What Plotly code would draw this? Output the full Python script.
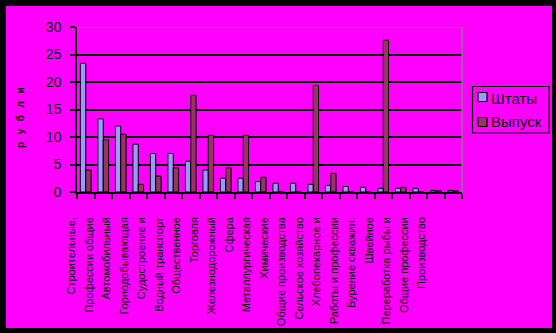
import plotly.graph_objects as go

categories = [
    "Строительные,", "Профессии общие", "Автомобильный", "Горнодобывающая",
    "Судостроение и", "Водный транспорт", "Общественное", "Торговля",
    "Железнодорожный", "Сфера", "Металлургическая", "Химические",
    "Общие производства", "Сельское хозяйство", "Хлебопекарное и",
    "Работы и профессии", "Бурение скважин.", "Швейное",
    "Переработка рыбы и", "Общие профессии", "Производство", "",
]
shtaty = [23.4, 13.3, 12.0, 8.7, 7.0, 7.0, 5.6, 4.0, 2.5, 2.5, 1.9, 1.6,
          1.6, 1.4, 1.2, 1.0, 0.85, 0.67, 0.67, 0.67, 0.3, 0.3]
vypusk = [4.0, 9.5, 10.5, 1.4, 2.9, 4.4, 17.6, 10.3, 4.4, 10.3, 2.7, 0,
          0, 19.4, 3.4, 0, 0, 27.6, 0.85, 0, 0.2, 0.2]
y_ticks = [0, 5, 10, 15, 20, 25, 30]
series_names = ["Штаты", "Выпуск"]
series_colors = ["#9999FF", "#993366"]
y_title = "рубли"

x_idx = list(range(len(categories)))
MAG = "#FF00FF"
FONT = "Liberation Sans, Arial, sans-serif"

fig = go.Figure()
for name, vals, col in zip(series_names, [shtaty, vypusk], series_colors):
    fig.add_trace(go.Bar(x=x_idx, y=vals, name=name,
                         marker=dict(color=col, line=dict(color="black", width=1))))

L, R, T, B = 77, 94, 27, 141
W, H = 556, 333
pw, ph = W - L - R, H - T - B

def px(x):
    return (x - L) / pw

def py(y):
    return (H - B - y) / ph

shapes = [
    dict(type="rect", xref="paper", yref="paper", layer="below",
         x0=px(6), x1=px(552), y0=py(328), y1=py(6),
         fillcolor=MAG, line=dict(width=0)),
    dict(type="line", xref="paper", yref="y", x0=0, x1=1, y0=30, y1=30,
         line=dict(color="#808080", width=1.5)),
    dict(type="line", xref="paper", yref="paper", x0=1, x1=1, y0=0, y1=1,
         line=dict(color="#808080", width=1.5)),
    # legend box
    dict(type="rect", xref="paper", yref="paper",
         x0=px(472.5), x1=px(549), y0=py(133), y1=py(86.5),
         fillcolor=MAG, line=dict(color="black", width=1.2)),
]
annotations = []
legend_rows = [(92.5, 101.5, 98.5), (117.5, 126.5, 122)]
for (y0, y1, yc), name, col in zip(legend_rows, series_names, series_colors):
    shapes.append(dict(type="rect", xref="paper", yref="paper",
                       x0=px(478), x1=px(487), y0=py(y1), y1=py(y0),
                       fillcolor=col, line=dict(color="black", width=1.2)))
    annotations.append(dict(text=name, xref="paper", yref="paper",
                            x=px(489), y=py(yc), xanchor="left", yanchor="middle",
                            showarrow=False,
                            font=dict(size=15, color="black", family=FONT)))

spaced_title = "\u00a0\u00a0\u2009".join(y_title)
annotations.append(dict(text="<b>" + spaced_title + "</b>", xref="paper", yref="paper",
                        x=px(20), y=py(118), xanchor="center", yanchor="middle",
                        textangle=-90, showarrow=False,
                        font=dict(size=10, color="black", family=FONT)))

fig.update_layout(
    width=W, height=H,
    margin=dict(l=L, r=R, t=T, b=B, pad=0, autoexpand=False),
    paper_bgcolor="black",
    plot_bgcolor=MAG,
    barmode="group",
    bargap=0.39,
    bargroupgap=0,
    font=dict(family=FONT, color="black"),
    showlegend=False,
    shapes=shapes,
    annotations=annotations,
)

fig.update_xaxes(
    type="linear",
    automargin=False,
    range=[-0.5, len(categories) - 0.5],
    tickmode="array",
    tickvals=x_idx,
    ticktext=categories,
    tickangle=-90,
    ticks="",
    showline=True, linecolor="black", linewidth=1.5,
    showgrid=False, zeroline=False,
    tickfont=dict(size=11, color="black", family=FONT),
    ticklabelshift=-14,
    ticklabelstandoff=19,
    minor=dict(tickvals=[i - 0.5 for i in range(len(categories) + 1)],
               ticks="outside", ticklen=5, tickcolor="black", tickwidth=1.5),
)
fig.update_yaxes(
    automargin=False,
    range=[0, 30],
    tickvals=y_ticks,
    ticks="outside", ticklen=5, tickcolor="black", tickwidth=1.5,
    showline=True, linecolor="black", linewidth=1.5,
    showgrid=True, gridcolor="black", gridwidth=1.5,
    zeroline=False,
    tickfont=dict(size=14, color="black", family=FONT),
    ticklabelstandoff=6,
)

fig.write_html("out.html")
